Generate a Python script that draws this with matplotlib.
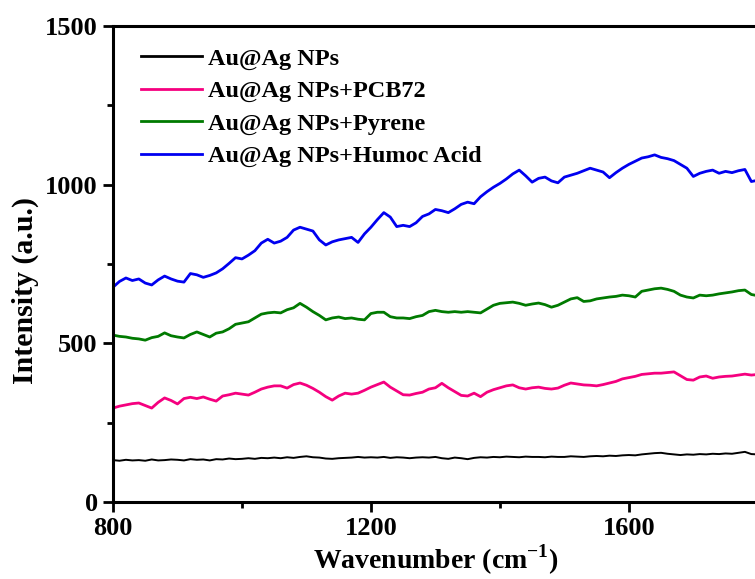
import numpy as np
import matplotlib
matplotlib.use("Agg")
import matplotlib.pyplot as plt

plt.rcParams['font.family'] = 'Liberation Serif'
plt.rcParams['font.weight'] = 'bold'
plt.rcParams['mathtext.fontset'] = 'custom'
plt.rcParams['mathtext.rm'] = 'Liberation Serif:bold'
plt.rcParams['mathtext.bf'] = 'Liberation Serif:bold'

# wavenumber grid, 10 cm-1 steps from 800 to 1800
wavenumber = np.arange(800, 1801, 10)

labels = ['Au@Ag NPs', 'Au@Ag NPs+PCB72', 'Au@Ag NPs+Pyrene', 'Au@Ag NPs+Humoc Acid']
colors = ['#000000', '#F5007F', '#007A00', '#0000F0']

au_ag = [132, 130, 133, 131, 132, 130, 134, 131, 132, 134,
         133, 131, 135, 133, 134, 131, 135, 134, 137, 135,
         136, 138, 136, 139, 138, 140, 138, 141, 139, 142,
         144, 141, 140, 137, 136, 138, 139, 140, 142, 140,
         141, 140, 142, 139, 141, 140, 138, 140, 141, 140,
         142, 138, 136, 140, 138, 135, 139, 141, 140, 142,
         141, 143, 142, 141, 143, 142, 142, 141, 143, 142,
         142, 144, 143, 142, 144, 145, 144, 146, 145, 147,
         148, 147, 150, 152, 154, 155, 152, 150, 148, 150,
         149, 151, 150, 152, 151, 153, 152, 155, 158, 151,
         150]

pcb72 = [296, 302, 306, 310, 312, 304, 296, 314, 328, 320,
         309, 326, 330, 326, 331, 324, 318, 334, 338, 343,
         340, 337, 346, 356, 362, 366, 366, 359, 370, 375,
         368, 358, 346, 332, 321, 334, 343, 340, 343, 352,
         362, 370, 378, 362, 350, 338, 337, 342, 346, 356,
         360, 374, 360, 348, 336, 334, 343, 332, 346, 354,
         360, 366, 369, 360, 356, 360, 362, 358, 356, 359,
         368, 375, 372, 369, 368, 366, 370, 375, 380, 388,
         392, 396, 402, 404, 406, 406, 408, 410, 398, 386,
         384, 394, 397, 390, 394, 396, 397, 400, 403, 400,
         402]

pyrene = [526, 522, 520, 516, 514, 510, 518, 522, 533, 524,
          520, 517, 528, 536, 528, 520, 532, 536, 546, 560,
          564, 568, 580, 592, 596, 598, 596, 606, 612, 626,
          614, 600, 588, 574, 580, 583, 578, 580, 576, 574,
          594, 598, 598, 584, 580, 580, 578, 584, 588, 600,
          604, 600, 598, 600, 598, 600, 598, 596, 608, 620,
          626, 628, 630, 626, 620, 624, 627, 622, 614, 620,
          630, 640, 644, 632, 634, 640, 643, 646, 648, 652,
          650, 646, 664, 668, 672, 674, 670, 664, 652, 646,
          643, 652, 650, 652, 656, 659, 662, 666, 668, 654,
          650]

humic = [677, 695, 706, 698, 703, 690, 684, 700, 712, 703,
         696, 693, 720, 716, 708, 714, 722, 735, 752, 770,
         766, 778, 792, 816, 828, 816, 822, 834, 857, 866,
         860, 854, 826, 810, 820, 826, 830, 834, 818, 845,
         866, 890, 912, 898, 868, 872, 868, 880, 900, 908,
         922, 918, 912, 924, 938, 945, 940, 962, 978, 992,
         1004, 1018, 1034, 1046, 1028, 1008, 1020, 1024, 1012, 1006,
         1024, 1030, 1036, 1044, 1052, 1046, 1040, 1022, 1038, 1052,
         1064, 1074, 1084, 1088, 1094, 1086, 1082, 1076, 1064, 1052,
         1026, 1036, 1042, 1046, 1036, 1042, 1038, 1044, 1048, 1010,
         1014]

series = [au_ag, pcb72, pyrene, humic]
widths = [1.4, 2.0, 2.0, 2.0]

fig = plt.figure(figsize=(7.55, 5.79), dpi=100)
ax = fig.add_axes([0.1497, 0.133, 0.854, 0.822])

for y, c, lab, lw in zip(series, colors, labels, widths):
    ax.plot(wavenumber, y, color=c, lw=lw, label=lab)

ax.set_xlim(800, 1800)
ax.set_ylim(0, 1500)
ax.set_xticks([800, 1200, 1600])
ax.set_xticks([1000, 1400], minor=True)
ax.set_yticks([0, 500, 1000, 1500])
ax.set_yticks([250, 750, 1250], minor=True)
ax.tick_params(which='major', direction='out', length=7, width=2, labelsize=19, pad=4)
ax.tick_params(which='minor', direction='out', length=4, width=2)
for s in ax.spines.values():
    s.set_linewidth(2.2)

ax.set_xlabel('Wavenumber (cm$^{-1}$)', fontsize=20, fontweight='bold', labelpad=2)
ax.set_ylabel('Intensity (a.u.)', fontsize=21.5, fontweight='bold', labelpad=2)
ax.yaxis.set_label_coords(-0.115, 0.445)

leg = ax.legend(loc='upper left', bbox_to_anchor=(0.01, 1.0), frameon=False,
                fontsize=17.5, handlelength=2.5, handletextpad=0.25, labelspacing=0.42)
for line in leg.get_lines():
    line.set_linewidth(2.0)

fig.savefig('out.png', dpi=100)
